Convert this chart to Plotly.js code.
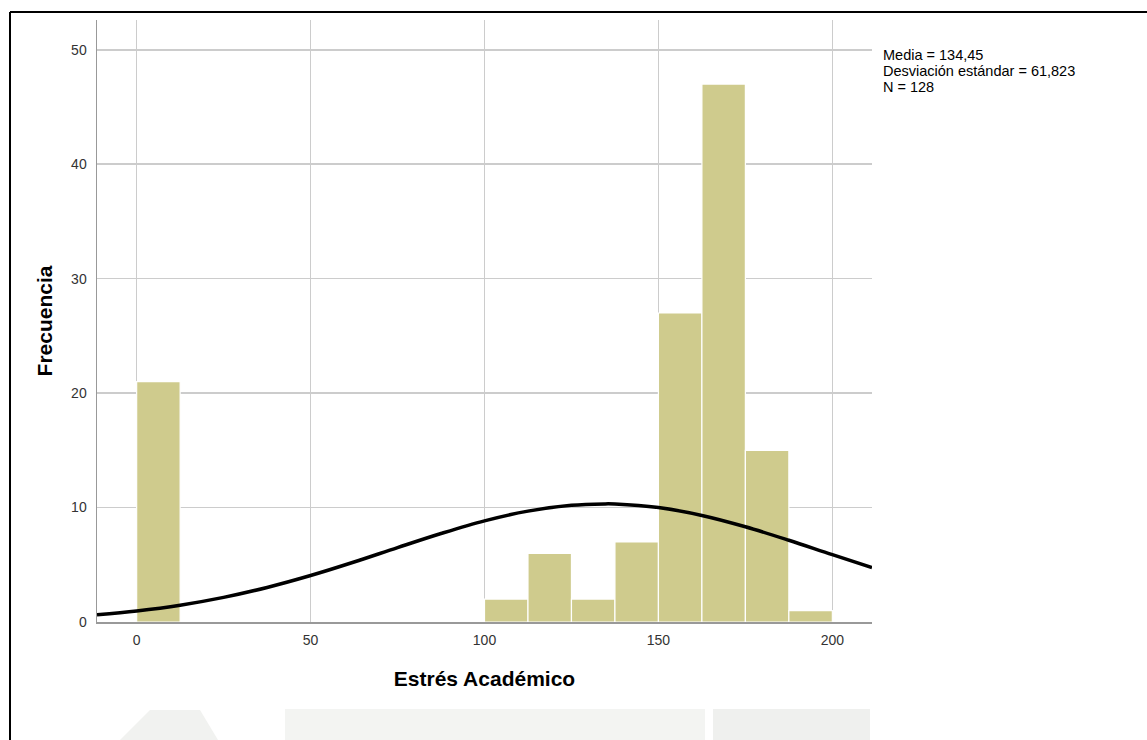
<!DOCTYPE html>
<html>
<head>
<meta charset="utf-8">
<script src="https://cdn.plot.ly/plotly-3.0.1.min.js"></script>
<style>
html,body{margin:0;padding:0;background:#fff;}
#chart{width:1147px;height:740px;}
</style>
</head>
<body>
<div id="chart"></div>
<script>
// Histogram bins (centers, width 12.5) and frequencies
const binCenters = [6.25, 106.25, 118.75, 131.25, 143.75, 156.25, 168.75, 181.25, 193.75];
const frequencies = [21, 2, 6, 2, 7, 27, 47, 15, 1];
const binWidth = 12.5;

// Normal curve points
const curveX = [-11.4, 0, 12.5, 25, 37.5, 50, 62.5, 75, 87.5, 100, 112.5, 125, 134.45, 137.5, 150, 162.5, 175, 187.5, 200, 211.4];
const curveY = [0.64, 0.97, 1.47, 2.15, 3.02, 4.06, 5.24, 6.50, 7.73, 8.84, 9.69, 10.20, 10.32, 10.31, 10.0, 9.31, 8.32, 7.14, 5.88, 4.76];

const xTicks = [0, 50, 100, 150, 200];
const yTicks = [0, 10, 20, 30, 40, 50];
const statsLines = ["Media = 134,45", "Desviación estándar = 61,823", "N = 128"];

const font = "Liberation Sans, Arial, sans-serif";

const traces = [
  {
    type: 'bar',
    x: binCenters,
    y: frequencies,
    width: binWidth,
    marker: {color: '#cfcb8d', line: {color: '#ffffff', width: 1.2}},
    hoverinfo: 'x+y'
  },
  {
    type: 'scatter',
    mode: 'lines',
    x: curveX,
    y: curveY,
    line: {color: '#000000', width: 3.5, shape: 'spline'},
    hoverinfo: 'skip'
  }
];

const L = 97, R = 872, T = 20, B = 622;
function px(x){ return (x - L) / (R - L); }
function py(y){ return (B - y) / (B - T); }

const statsY = [55, 71, 87];
const annotations = statsLines.map((t, i) => ({
  xref: 'paper', yref: 'paper',
  x: px(881), y: py(statsY[i]),
  xanchor: 'left', yanchor: 'middle',
  align: 'left',
  showarrow: false,
  text: t,
  font: {family: font, size: 14.5, color: '#000000'}
}));

const layout = {
  width: 1147,
  height: 740,
  margin: {l: L, r: 1147 - R, t: T, b: 740 - B, pad: 0},
  paper_bgcolor: '#ffffff',
  plot_bgcolor: '#ffffff',
  showlegend: false,
  bargap: 0,
  xaxis: {
    range: [-11.4, 211.4],
    tickvals: xTicks,
    ticktext: xTicks.map(String),
    showgrid: true,
    gridcolor: '#cccccc',
    gridwidth: 1.5,
    zeroline: false,
    showline: true,
    linecolor: '#999999',
    linewidth: 1.5,
    ticks: '',
    ticklabelstandoff: 5,
    tickfont: {family: font, size: 14, color: '#333333'},
    title: {text: 'Estrés Académico', font: {family: font, size: 21, color: '#000000', weight: 'bold'}, standoff: 24},
    fixedrange: true
  },
  yaxis: {
    range: [0, 52.6],
    tickvals: yTicks,
    ticktext: yTicks.map(String),
    showgrid: true,
    gridcolor: '#cccccc',
    gridwidth: 1.5,
    zeroline: false,
    showline: true,
    linecolor: '#999999',
    linewidth: 1.5,
    ticks: '',
    ticklabelstandoff: 6,
    tickfont: {family: font, size: 14, color: '#333333'},
    title: {text: 'Frecuencia', font: {family: font, size: 21, color: '#000000', weight: 'bold'}, standoff: 13},
    fixedrange: true
  },
  annotations: annotations,
  shapes: [
    // outer frame (top and left)
    {type: 'line', xref: 'paper', yref: 'paper', x0: px(10), x1: px(1160), y0: py(12), y1: py(12), line: {color: '#000', width: 2}},
    {type: 'line', xref: 'paper', yref: 'paper', x0: px(10), x1: px(10), y0: py(12), y1: py(760), line: {color: '#000', width: 2}},
    // faint watermark bits at bottom
    {type: 'path', xref: 'paper', yref: 'paper', layer: 'below',
      path: 'M ' + px(120) + ',' + py(740) + ' L ' + px(150) + ',' + py(710) + ' L ' + px(200) + ',' + py(710) + ' L ' + px(218) + ',' + py(740) + ' Z',
      fillcolor: '#f1f2f0', line: {width: 0}},
    {type: 'rect', xref: 'paper', yref: 'paper', layer: 'below', x0: px(285), x1: px(705), y0: py(740), y1: py(709), fillcolor: '#f3f4f2', line: {width: 0}},
    {type: 'rect', xref: 'paper', yref: 'paper', layer: 'below', x0: px(713), x1: px(870), y0: py(740), y1: py(709), fillcolor: '#eff0ee', line: {width: 0}}
  ]
};

Plotly.newPlot('chart', traces, layout, {displayModeBar: false, staticPlot: true});
</script>
</body>
</html>
